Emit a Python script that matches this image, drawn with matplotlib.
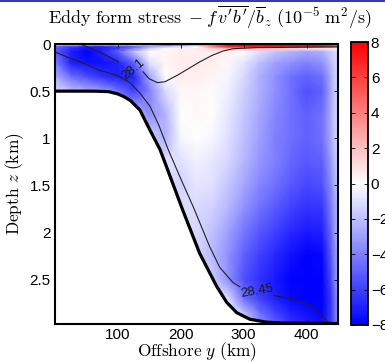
import numpy as np
import matplotlib
matplotlib.use("Agg")
import matplotlib.pyplot as plt
from matplotlib.lines import Line2D

plt.rcParams["mathtext.fontset"] = "cm"
plt.rcParams["font.family"] = ["Liberation Sans", "DejaVu Sans"]

# Offshore positions (km) and depths (km) of the stress field grid
offshore_km = [0, 25, 50, 75, 100, 125, 150, 175, 200, 225, 250, 275, 300, 325, 350, 375, 400, 425, 440, 450]
depth_km = [0.0, 0.03, 0.05, 0.08, 0.2, 0.35, 0.5, 0.75, 1.0, 1.25, 1.5, 1.75, 2.0, 2.25, 2.5, 2.7, 2.85, 2.97]

# Eddy form stress (1e-5 m^2/s), one row per depth level
stress_z000 = [0, 0, 0, 0, 0, 0, -2, -6, -6, -4, 4, 8, 8, 8, 8, 8, 8, 8, 7, 5]
stress_z003 = [-5, -6, -7, -7, -6, -5, -3, -2, -1, 0, 4, 7, 7.5, 7.5, 7.5, 7.5, 7.5, 7, 6, 4]
stress_z005 = [-5, -6.5, -7.5, -7, -6, -4, -1.5, 0, 0.3, 0.5, 1.5, 2.5, 2.5, 2, 1.5, 1, 0.5, 0.5, 0.5, 0]
stress_z008 = [-5, -7, -8, -7, -5, -2, 0, 0.3, 0.5, 0.5, 0.5, 0.4, 0, -1, -1.8, -2.3, -2.8, -2.5, -1.5, -1]
stress_z020 = [-4, -7, -7.5, -7.5, -7, -5, -1, 0.3, 0.6, 0.6, 0.5, 0.2, -0.8, -2, -3, -3.5, -4, -3.5, -2, -1]
stress_z035 = [-2.5, -4.5, -5.5, -6.5, -7, -7, -3, 0, 0.5, 0.5, 0.3, -0.3, -1.2, -2.5, -3.5, -4.5, -5, -4.5, -2.5, -1]
stress_z050 = [-1, -2, -2.5, -3, -4.5, -6, -4, -1.2, 0.2, 0.3, 0.1, -0.5, -1.5, -2.5, -3.5, -4.5, -5.5, -5, -2.5, -1]
stress_z075 = [-1, -1.5, -2, -2.5, -3, -2, -3.5, -2.5, 0, 0.2, 0, -0.8, -1.8, -2.8, -3.8, -4.5, -5, -4.5, -2.5, -1]
stress_z100 = [-1, -1, -1, -1, -1, -1.5, -1.5, -2.5, -0.3, 0, -0.3, -1, -2, -3, -4, -4.5, -5, -4.5, -2.5, -1]
stress_z125 = [-1, -1, -1, -1, -1, -1, -1, -1, -1, -0.5, -0.8, -1.3, -2.3, -3.3, -4, -4.8, -5.2, -5, -3, -1.2]
stress_z150 = [-1, -1, -1, -1, -1, -1, -1, -1, -1.5, -0.8, -1, -1.8, -2.8, -3.8, -4.5, -5.2, -5.8, -5.5, -3.5, -1.5]
stress_z175 = [-1, -1, -1, -1, -1, -1, -1, -1, -1, -1.2, -1.5, -2.3, -3.5, -4.5, -5.2, -6, -6.5, -6.3, -4, -2]
stress_z200 = [-1, -1, -1, -1, -1, -1, -1, -1, -1, -1.2, -2, -3, -4.3, -5.3, -6, -6.8, -7.2, -7, -4.5, -2]
stress_z225 = [-1, -1, -1, -1, -1, -1, -1, -1, -1, -1.2, -2.2, -3.5, -5, -6, -6.8, -7.5, -8, -7.8, -5, -2.5]
stress_z250 = [-1, -1, -1, -1, -1, -1, -1, -1, -1, -1, -1.5, -3.5, -5.5, -6.5, -7.2, -8, -8, -8, -5.5, -2.5]
stress_z270 = [-1, -1, -1, -1, -1, -1, -1, -1, -1, -1, -1, -1, -4.5, -6, -7, -7.8, -8, -8, -6, -3]
stress_z285 = [-1, -1, -1, -1, -1, -1, -1, -1, -1, -1, -1, -0.5, -2, -4.5, -6, -7, -7.5, -8, -6, -3]
stress_z297 = [-1, -1, -1, -1, -1, -1, -1, -1, -1, -1, -1, -0.5, -1, -3.5, -5, -6.5, -7, -7.5, -6, -3]

# Bottom topography
topo_y = [0, 60, 85, 100, 110, 120, 135, 150, 167, 180, 203, 230, 257, 273, 289, 310, 336, 362, 450]
topo_z = [0.5, 0.5, 0.505, 0.53, 0.56, 0.6, 0.7, 0.9, 1.12, 1.35, 1.76, 2.22, 2.57, 2.74, 2.85, 2.92, 2.95, 2.96, 2.965]

# Isopycnal 28.1 (split around its label)
iso281_a_y = [40, 55, 71, 101]
iso281_a_z = [0.0, 0.04, 0.085, 0.19]
iso281_b_y = [140, 150, 163, 175, 195, 230, 250, 267, 283, 320, 450]
iso281_b_z = [0.295, 0.37, 0.41, 0.40, 0.33, 0.19, 0.12, 0.075, 0.05, 0.038, 0.03]

# Isopycnal 28.45 (split around its label)
iso2845_a_y = [0, 20, 44, 71, 98, 119, 135, 151, 165, 180, 200, 220, 246, 262, 283, 294]
iso2845_a_z = [0.085, 0.14, 0.2, 0.28, 0.33, 0.41, 0.52, 0.66, 0.86, 1.12, 1.43, 1.73, 2.15, 2.37, 2.53, 2.575]
iso2845_b_y = [349, 384, 410, 421, 432, 437]
iso2845_b_z = [2.67, 2.71, 2.79, 2.85, 2.94, 2.97]

stress = np.array([stress_z000, stress_z003, stress_z005, stress_z008, stress_z020, stress_z035,
                   stress_z050, stress_z075, stress_z100, stress_z125, stress_z150, stress_z175,
                   stress_z200, stress_z225, stress_z250, stress_z270, stress_z285, stress_z297])

fig = plt.figure(figsize=(3.85, 3.63), dpi=100)
ax = fig.add_axes([55 / 385, 1 - 324 / 363, 283 / 385, 280 / 363])
cax = fig.add_axes([351 / 385, 1 - 325 / 363, 17 / 385, 283 / 363])

Y, Z = np.meshgrid(offshore_km, depth_km)
mesh = ax.pcolormesh(Y, Z, stress, shading="gouraud", cmap="bwr", vmin=-8, vmax=8,
                     rasterized=True)

# blank out the seafloor
ax.fill_between(topo_y, topo_z, 3.2, color="white", zorder=2)
ax.plot(topo_y, topo_z, color="black", lw=2.3, zorder=4, solid_capstyle="round")

for yy, zz in [(iso281_a_y, iso281_a_z), (iso281_b_y, iso281_b_z),
               (iso2845_a_y, iso2845_a_z), (iso2845_b_y, iso2845_b_z)]:
    ax.plot(yy, zz, color="#222222", lw=0.8, zorder=3)

ax.text(124, 0.265, "28.1", rotation=40, ha="center", va="center", fontsize=9.5,
        color="#1a1a1a", zorder=5)
ax.text(321, 2.62, "28.45", rotation=10, ha="center", va="center", fontsize=9.5,
        color="#1a1a1a", zorder=5)

ax.set_xlim(0, 450)
ax.set_ylim(2.97, 0)
ax.set_xticks([100, 200, 300, 400])
ax.set_yticks([0, 0.5, 1, 1.5, 2, 2.5])
ax.set_yticklabels(["0", "0.5", "1", "1.5", "2", "2.5"])
ax.tick_params(direction="in", length=3, width=0.6, top=True, right=True,
               labelsize=11, pad=3)
for sp in ax.spines.values():
    sp.set_linewidth(1.5)
    sp.set_zorder(6)

ax.set_xlabel(r"$\mathrm{Offshore}\ y\ (\mathrm{km})$", fontsize=12.5, labelpad=-1)
ax.set_ylabel(r"$\mathrm{Depth}\ z\ (\mathrm{km})$", fontsize=12.5, labelpad=3)
fig.text(0.545, 0.953,
         r"$\mathrm{Eddy\ form\ stress}\ -f\,\overline{v'b'}/\overline{b}_z\ (10^{-5}\ \mathrm{m}^2/\mathrm{s})$",
         ha="center", va="center", fontsize=13)

cb = fig.colorbar(mesh, cax=cax, ticks=np.arange(-8, 9, 2))
cb.ax.tick_params(direction="in", length=3, width=0.6, labelsize=11, pad=2,
                  left=True, right=True)
cb.ax.set_yticklabels([str(v).replace("-", "\u2212") for v in range(-8, 9, 2)])
cb.outline.set_linewidth(1.3)

fig.add_artist(Line2D([0, 1], [0.998, 0.998], color="#3a3aa8", lw=1.5,
                      transform=fig.transFigure))

fig.savefig("out.png", dpi=100)
